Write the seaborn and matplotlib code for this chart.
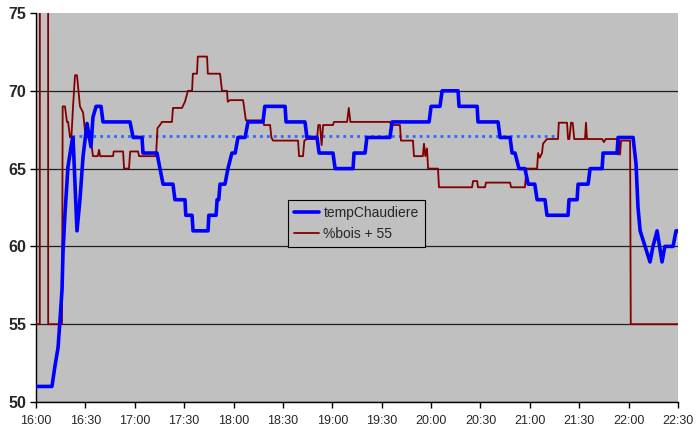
"""Boiler temperature vs wood feed rate, 16:00-22:30."""

import matplotlib

matplotlib.use("Agg")
import matplotlib.pyplot as plt
import pandas as pd
import seaborn as sns

# minutes after 16:00
temp_minutes = [
    0, 9.7, 11.5, 13.4, 14.6, 15.8, 16.4, 17.6, 19.4, 21.9, 22.5, 24.9, 26.7, 28.6, 31,
    33.4, 34.6, 36.5, 39.5, 40.7, 57.1, 59, 64.4, 65, 73.5, 75.3, 77.2, 83.2, 84.4, 90.5,
    91, 94.8, 95.4, 104.5, 105, 109.4, 110, 111, 111.8, 114.8, 116.6, 119, 121, 122.7,
    127, 128.8, 137.9, 139, 151.3, 151.9, 163.4, 164.6, 170.7, 172, 180.4, 181.7, 192.6,
    193.2, 199.9, 201, 215, 216.3, 238.8, 240, 245.4, 246.7, 256.4, 257, 268, 268.5,
    280.7, 281.9, 288, 289.2, 291, 293.4, 297, 299, 303, 304.4, 309.2, 310.4, 323.2,
    323.8, 328.7, 329.3, 335.4, 336.6, 343.9, 344.5, 353, 353.6, 362.7, 364.5, 365.7,
    367, 370, 373, 374.8, 377.3, 380.3, 382, 387, 388.8, 390,
]
temp_chaudiere = [
    51, 51, 52.3, 53.5, 55.3, 57.2, 59.6, 62.1, 65.1, 66.8, 67, 61, 63, 65.8, 67.9,
    66.4, 68.3, 69, 69, 68, 68, 67, 67, 66, 66, 65, 64, 64, 63, 63,
    62, 62, 61, 61, 62, 62, 63, 63, 64, 64, 65, 66, 66, 67,
    67, 68, 68, 69, 69, 68, 68, 67, 67, 66, 66, 65, 65,
    66, 66, 67, 67, 68, 68, 69, 69, 70, 70, 69, 69, 68,
    68, 67, 67, 66, 66, 65, 65, 64, 64, 63, 63, 62, 62,
    63, 63, 64, 64, 65, 65, 66, 66, 67, 67, 65.3, 62.5,
    61, 60, 59, 60, 61, 59, 60, 60, 61, 61,
]

bois_minutes = [
    0, 2.3, 2.5, 7.2, 7.4, 15.8, 16.2, 17.6, 18.8, 19.5, 20.7, 21.5, 22.5, 23.7, 24.9,
    26.7, 28.6, 29.8, 30.4, 32.8, 34, 34.6, 37.5, 38.3, 39, 46.8, 47.2, 52.9, 53.5, 56.5,
    57.2, 62, 62.6, 72.9, 73.8, 75.3, 76.5, 82.6, 83.2, 88.7, 90.5, 92.3, 94.8, 95.3,
    97.8, 98.3, 103.9, 104.4, 111.8, 113, 116, 116.5, 117.9, 125.8, 127.5, 137.9, 138.5,
    142.2, 143, 144, 159.2, 159.8, 162.2, 163, 164.6, 170.7, 171.5, 172.5, 173.5, 174.4,
    180.4, 181, 189, 190, 191, 215, 215.8, 221.1, 221.7, 229, 229.6, 235, 235.7, 236.5,
    237.5, 238.2, 244.2, 244.8, 264.9, 265.5, 268, 268.5, 272.8, 273.3, 288, 288.6, 297,
    298, 304.4, 305, 306, 307.4, 308, 310.4, 317.1, 317.6, 322.6, 323.2, 324, 325, 326,
    327, 333.5, 334.1, 334.7, 343.9, 345, 346, 353, 353.6, 354.2, 354.8, 355.4, 360.9,
    361.3, 390,
]
bois_plus_55 = [
    55, 55, 155, 155, 55, 55, 69, 69, 68, 68, 67, 67, 69, 71, 71,
    69, 68.6, 67.4, 67, 67, 66.3, 65.8, 65.8, 66.2, 65.8, 65.8, 66.1, 66.1, 65, 65,
    66.1, 66.1, 65.8, 65.8, 67.6, 67.8, 68, 68, 68.9, 68.9, 69.3, 70, 70, 71.1,
    71.1, 72.2, 72.2, 71.1, 71.1, 70, 70, 69.3, 69.4, 69.4, 68.1, 68.1, 67.8,
    67.8, 67, 66.8, 66.8, 65.8, 65.8, 66.8, 66.9, 66.9, 67.8, 67.8, 66.5, 67.8,
    67.8, 68, 68, 68.9, 68, 68, 67.8, 67.8, 66.8, 66.8, 65.8, 65.8, 66.6, 65.8,
    66.3, 65, 65, 63.8, 63.8, 64.2, 64.2, 63.8, 63.8, 64.1, 64.1, 63.8, 63.8,
    65, 65, 66, 65.7, 66, 66.6, 66.9, 66.9, 67.95, 67.95, 66.9, 66.9, 67.95, 67.95,
    66.9, 66.9, 67.95, 66.9, 66.9, 66.7, 66.9, 66.9, 65.9, 66.8, 65.9, 66.8, 66.8,
    55, 55,
]

mean_minutes = [22, 317]
mean_temp = [67.1, 67.1]

tick_minutes = list(range(0, 391, 30))
tick_labels = ["16:00", "16:30", "17:00", "17:30", "18:00", "18:30", "19:00",
               "19:30", "20:00", "20:30", "21:00", "21:30", "22:00", "22:30"]

sns.set_theme(style="white", rc={"axes.facecolor": "#C0C0C0"})
plt.rcParams["font.family"] = ["Liberation Sans", "DejaVu Sans"]

temp_df = pd.DataFrame({"minutes": temp_minutes, "value": temp_chaudiere})
bois_df = pd.DataFrame({"minutes": bois_minutes, "value": bois_plus_55})
mean_df = pd.DataFrame({"minutes": mean_minutes, "value": mean_temp})

fig = plt.figure(figsize=(7, 4.3), dpi=100)
ax = fig.add_axes([36 / 700, 28 / 430, 642 / 700, 389 / 430])

sns.lineplot(data=temp_df, x="minutes", y="value", ax=ax, color="#0000FF",
             linewidth=2.6, estimator=None, sort=False, label="tempChaudiere", zorder=4)
sns.lineplot(data=bois_df, x="minutes", y="value", ax=ax, color="#800000",
             linewidth=1.3, estimator=None, sort=False, label="%bois + 55", zorder=3)
sns.lineplot(data=mean_df, x="minutes", y="value", ax=ax, color="#3366FF",
             linewidth=2, linestyle=(0, (1, 1.5)), estimator=None, sort=False,
             legend=False, zorder=2)

ax.set_xlim(0, 390)
ax.set_ylim(50, 75)
ax.set_xticks(tick_minutes)
ax.set_xticklabels(tick_labels, fontsize=9)
ax.set_yticks(range(50, 76, 5))
ax.set_yticklabels([str(v) for v in range(50, 76, 5)], fontsize=11.5, fontweight="bold")
ax.set_xlabel("")
ax.set_ylabel("")

ax.grid(axis="y", color="#202020", linewidth=0.9)
ax.grid(axis="x", visible=False)
ax.yaxis.get_gridlines()[-1].set_visible(False)
ax.set_axisbelow(True)

for side in ["top", "right"]:
    ax.spines[side].set_visible(False)
for side in ["left", "bottom"]:
    ax.spines[side].set_color("black")
    ax.spines[side].set_linewidth(1)
ax.tick_params(axis="both", direction="out", length=4, width=1, color="black",
               pad=3, bottom=True, left=True)
ax.tick_params(axis="x", pad=5)

handles, labels = ax.get_legend_handles_labels()
leg = ax.legend(handles[:2], labels[:2], loc="upper left",
                bbox_to_anchor=(0.3925, 0.519), borderaxespad=0, fontsize=10,
                frameon=True, fancybox=False, framealpha=1, edgecolor="black",
                handlelength=1.8, handletextpad=0.3, borderpad=0.45, labelspacing=0.45)
leg.get_frame().set_linewidth(0.8)

fig.savefig("out.png", dpi=100)
